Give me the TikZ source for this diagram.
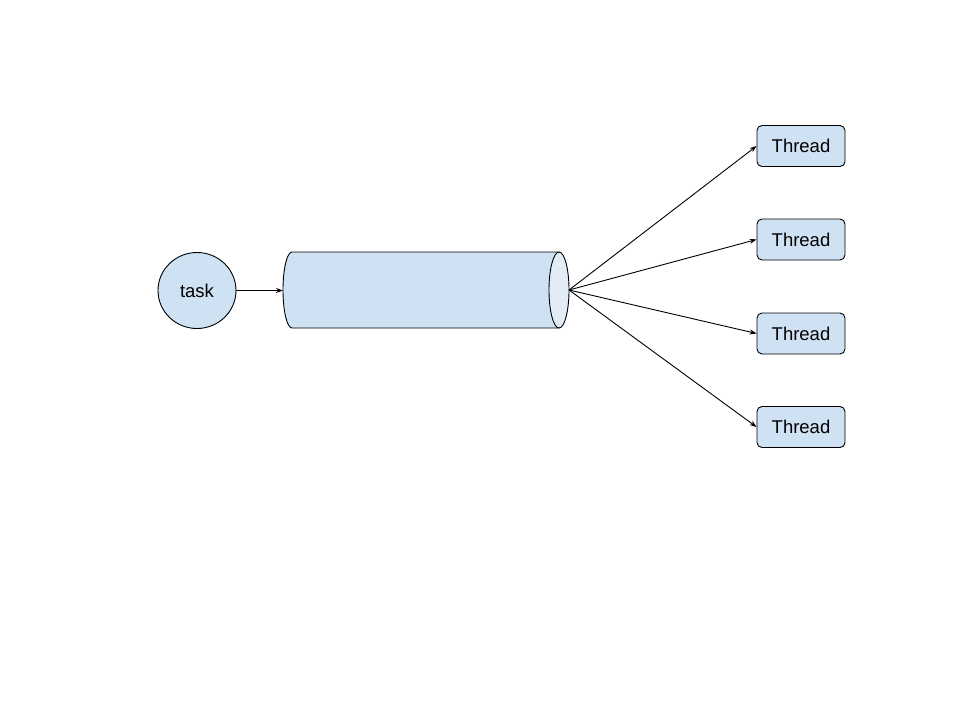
\documentclass[tikz,border=0pt]{standalone}
\usepackage{fontspec}
\setmainfont{Liberation Sans}
\usetikzlibrary{arrows.meta,shapes.geometric}
\definecolor{fillblue}{HTML}{CFE2F3}
\definecolor{lightblue}{HTML}{E2ECF7}
\begin{document}
\begin{tikzpicture}[x=1pt,y=-1pt,
  every node/.style={font=\fontsize{18.5}{22}\selectfont},
  thread/.style={draw, fill=fillblue, rounded corners=5pt, minimum width=88pt, minimum height=41pt, inner sep=0pt, line width=0.9pt},
  conn/.style={line width=0.9pt, -{Stealth[length=7pt,width=5pt]}}]
\useasboundingbox (0,0) rectangle (960,720);
\node[draw, fill=fillblue, ellipse, minimum width=78pt, minimum height=76pt, inner sep=0pt, line width=0.9pt] (task) at (197,290.5) {task};
% cylinder
\filldraw[fill=fillblue, line width=0.9pt] (292,252) -- (559,252) -- (559,328) -- (292,328) arc[start angle=90, end angle=270, x radius=9, y radius=38] -- cycle;
\filldraw[fill=lightblue, line width=0.9pt] (559,290) ellipse[x radius=10, y radius=38];
\coordinate (qin) at (283,290.5);
\coordinate (qout) at (569,290);
\node[thread] (t1) at (801,146) {Thread};
\node[thread] (t2) at (801,239.5) {Thread};
\node[thread] (t3) at (801,333.5) {Thread};
\node[thread] (t4) at (801,427) {Thread};
\draw[conn] (task.east) -- (qin);
\foreach \t in {t1,t2,t3,t4} \draw[conn] (qout) -- (\t.west);
\end{tikzpicture}
\end{document}
